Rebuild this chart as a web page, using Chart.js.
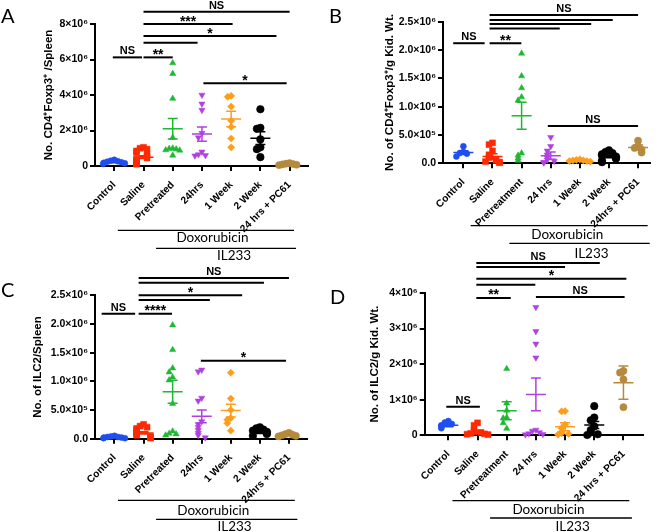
<!DOCTYPE html>
<html>
<head>
<meta charset="utf-8">
<script src="https://cdn.jsdelivr.net/npm/chart.js@4.4.0/dist/chart.umd.min.js"></script>
<style>
    body { margin: 0; background: #fff; width: 658px; height: 532px; position: relative; overflow: hidden; }
    canvas { position: absolute; }
    .panel { position: absolute; font-family: Lato, "Open Sans", sans-serif; font-size: 20px; line-height: 20px; color: #000; }
</style>
</head>
<body>
<canvas id="chartA" width="329" height="270" style="left:0;top:0"></canvas>
<canvas id="chartB" width="329" height="270" style="left:329px;top:0"></canvas>
<canvas id="chartC" width="329" height="270" style="left:0;top:262px"></canvas>
<canvas id="chartD" width="329" height="282" style="left:329px;top:250px"></canvas>
<div class="panel" style="left:1px;top:5px">A</div>
<div class="panel" style="left:329px;top:5px">B</div>
<div class="panel" style="left:1px;top:279px">C</div>
<div class="panel" style="left:330px;top:286px">D</div>
<script>
// values are in units of 10^6 cells
const catsA = ['Control', 'Saline', 'Pretreated', '24hrs', '1 Week', '2 Week', '24 hrs + PC61'];
const catsB = ['Control', 'Saline', 'Pretreatment', '24 hrs', '1 Week', '2 Week', '24hrs + PC61'];
const catsC = ['Control', 'Saline', 'Pretreated', '24hrs', '1 Week', '2 Week', '24hrs + PC61'];
const catsD = ['Control', 'Saline', 'Pretreatment', '24 hrs', '1 Week', '2 Week', '24 hrs + PC61'];

const valuesA = [
    [0.35, 0.3, 0.27, 0.24, 0.21, 0.18, 0.15, 0.12],
    [1.05, 1.0, 0.95, 0.85, 0.75, 0.65, 0.55, 0.45, 0.38, 0.3, 0.22, 0.15, 0.1],
    [5.8, 5.2, 3.8, 1.6, 1.0, 0.98, 0.95, 0.9, 0.88, 0.6],
    [4.0, 3.5, 3.15, 1.85, 1.6, 0.8, 0.65, 0.6, 0.58],
    [3.95, 3.9, 3.35, 2.55, 2.2, 1.55, 1.05],
    [3.2, 2.15, 2.1, 1.5, 1.05, 0.95, 0.5],
    [0.16, 0.13, 0.11, 0.09, 0.07, 0.05]
];
const meansA = [0.22, 0.5, 2.1, 1.8, 2.65, 1.57, 0.1];
const semsA = [0.03, 0.08, 0.58, 0.4, 0.44, 0.36, 0.02];

const valuesB = [
    [0.3, 0.2, 0.18, 0.17, 0.12],
    [0.36, 0.33, 0.22, 0.15, 0.1, 0.07, 0.05, 0.03, 0.02, 0.01],
    [1.94, 1.54, 1.33, 1.17, 1.11, 0.18, 0.14, 0.09, 0.05],
    [0.46, 0.3, 0.22, 0.15, 0.1, 0.06, 0.04, 0.02, 0.01],
    [0.07, 0.06, 0.05, 0.05, 0.04, 0.04, 0.03],
    [0.23, 0.2, 0.18, 0.16, 0.14, 0.12, 0.1, 0.08, 0.05, 0.02],
    [0.4, 0.3, 0.27, 0.24, 0.19]
];
const meansB = [0.19, 0.12, 0.84, 0.135, 0.05, 0.12, 0.28];
const semsB = [0.03, 0.05, 0.24, 0.065, 0.01, 0.02, 0.045];

const valuesC = [
    [0.05, 0.04, 0.03, 0.03, 0.02, 0.02, 0.01, 0.01],
    [0.25, 0.22, 0.2, 0.18, 0.15, 0.12, 0.1, 0.08, 0.06, 0.04, 0.02, 0.01],
    [1.98, 1.55, 1.23, 1.16, 1.07, 1.02, 0.61, 0.13, 0.09, 0.08, 0.06],
    [1.2, 1.17, 0.71, 0.66, 0.3, 0.25, 0.2, 0.15, 0.1, 0.06, 0.02],
    [1.15, 0.7, 0.5, 0.36, 0.33, 0.27, 0.14],
    [0.2, 0.18, 0.16, 0.14, 0.12, 0.1, 0.08, 0.05],
    [0.1, 0.08, 0.07, 0.06, 0.05, 0.04]
];
const meansC = [0.03, 0.1, 0.82, 0.39, 0.49, 0.11, 0.07];
const semsC = [0.005, 0.02, 0.2, 0.11, 0.11, 0.02, 0.01];

const valuesD = [
    [0.4, 0.36, 0.32, 0.28, 0.24, 0.2],
    [0.35, 0.28, 0.15, 0.1, 0.08, 0.05, 0.04, 0.03, 0.02],
    [1.87, 0.9, 0.7, 0.5, 0.48, 0.35, 0.19],
    [3.6, 2.92, 2.57, 2.18, 0.15, 0.12, 0.08, 0.05, 0.03, 0.02],
    [0.68, 0.67, 0.3, 0.2, 0.1, 0.06, 0.04, 0.02],
    [0.82, 0.5, 0.42, 0.25, 0.15, 0.08, 0.03, 0.01],
    [1.81, 1.76, 1.57, 0.79]
];
const meansD = [0.28, 0.1, 0.69, 1.15, 0.24, 0.29, 1.48];
const semsD = [0.04, 0.04, 0.25, 0.46, 0.11, 0.1, 0.47];

// y ticks (values in 10^6) and their printed labels
const yTickValsA = [0, 2, 4, 6, 8];
const yTickLabelsA = ['0', '2×10⁶', '4×10⁶', '6×10⁶', '8×10⁶'];
const yTickValsB = [0, 0.5, 1, 1.5, 2, 2.5];
const yTickLabelsB = ['0.0', '5.0×10⁵', '1.0×10⁶', '1.5×10⁶', '2.0×10⁶', '2.5×10⁶'];
const yTickValsC = [0, 0.5, 1, 1.5, 2, 2.5];
const yTickLabelsC = ['0.0', '5.0×10⁵', '1.0×10⁶', '1.5×10⁶', '2.0×10⁶', '2.5×10⁶'];
const yTickValsD = [0, 1, 2, 3, 4];
const yTickLabelsD = ['0', '1×10⁶', '2×10⁶', '3×10⁶', '4×10⁶'];

// significance bars: [from group, to group, height (10^6), label]
const barsA = [[1, 6, 8.69, 'NS'], [1, 4.05, 8.0, '***'], [1, 5.55, 7.32, '*'], [1, 2.85, 6.95, ''],
    [-0.05, 0.95, 6.12, 'NS'], [1, 2, 6.12, '**'], [3.05, 5.9, 4.66, '*']];
const barsB = [[0.9, 6, 2.62, 'NS'], [0.9, 5.13, 2.53, ''], [0.9, 4.39, 2.46, ''], [0.9, 3.31, 2.38, ''],
    [-0.35, 0.73, 2.12, 'NS'], [0.9, 1.99, 2.12, '**'], [2.9, 6, 0.66, 'NS']];
const barsC = [[0.83, 6, 2.8, 'NS'], [0.83, 5.14, 2.72, ''], [0.83, 4.39, 2.5, '*'], [0.83, 3.28, 2.42, ''],
    [-0.44, 0.71, 2.18, 'NS'], [0.83, 1.98, 2.18, '****'], [2.97, 5.9, 1.36, '*']];
const barsD = [[0.96, 5.19, 4.84, 'NS'], [0.96, 4.0, 4.73, ''], [0.96, 6.1, 4.4, '*'], [0.96, 2.98, 4.23, ''],
    [0.96, 2.14, 3.86, '**'], [3.0, 6.04, 3.89, 'NS'], [-0.07, 1.08, 0.8, 'NS']];

const colors = ['#1f4ef0', '#ff2a00', '#1fb833', '#b040e0', '#ff9d1a', '#000000', '#b68a3e'];
const shapes = ['circle', 'rect', 'triangle', 'triangle', 'rectRot', 'circle', 'circle'];
const turns = [0, 0, 0, 180, 0, 0, 0];
const radii = [3, 4.2, 3.6, 3.6, 3.6, 3.8, 3.6];

const boldFont = 'Arial, "Liberation Sans", sans-serif';
const plainFont = 'Lato, "Open Sans", sans-serif';

// spread points with close values sideways, like a dot plot
function spread(vals, yMax) {
    return vals.map((v, j) => {
        let n = 0;
        for (let k = 0; k < j; k++) {
            if (Math.abs(vals[k] - v) < yMax * 0.035) n++;
        }
        const off = Math.ceil(n / 2) * 0.12 * (n % 2 ? -1 : 1);
        return Math.max(-0.38, Math.min(0.38, off));
    });
}

const marksPlugin = {
    id: 'marks',
    afterDatasetsDraw(chart, args, opts) {
        const { ctx, chartArea } = chart;
        const xs = chart.scales.x, ys = chart.scales.y;
        ctx.save();
        // mean and SEM
        opts.means.forEach((m, i) => {
            const cx = xs.getPixelForValue(i);
            const ym = ys.getPixelForValue(m);
            const yt = ys.getPixelForValue(m + opts.sems[i]);
            const yb = ys.getPixelForValue(m - opts.sems[i]);
            ctx.strokeStyle = colors[i];
            ctx.lineWidth = 1.5;
            ctx.beginPath();
            ctx.moveTo(cx - 10, ym); ctx.lineTo(cx + 10, ym);
            ctx.moveTo(cx, yt); ctx.lineTo(cx, yb);
            ctx.moveTo(cx - 5, yt); ctx.lineTo(cx + 5, yt);
            ctx.moveTo(cx - 5, yb); ctx.lineTo(cx + 5, yb);
            ctx.stroke();
        });
        // significance bars
        ctx.strokeStyle = '#000';
        ctx.fillStyle = '#000';
        ctx.lineWidth = 2;
        ctx.textAlign = 'center';
        ctx.textBaseline = 'alphabetic';
        opts.bars.forEach(b => {
            const x1 = xs.getPixelForValue(b[0]), x2 = xs.getPixelForValue(b[1]);
            const y = ys.getPixelForValue(b[2]);
            ctx.beginPath();
            ctx.moveTo(x1, y); ctx.lineTo(x2, y);
            ctx.stroke();
            if (!b[3]) return;
            if (b[3] === 'NS') {
                ctx.font = 'bold 11px ' + boldFont;
                ctx.fillText(b[3], (x1 + x2) / 2, y - 3);
            } else {
                ctx.font = 'bold 14px ' + boldFont;
                ctx.fillText(b[3], (x1 + x2) / 2, y + 1.5);
            }
        });
        // treatment group lines under the axis
        ctx.lineWidth = 1.3;
        ctx.font = '13.5px ' + plainFont;
        ctx.textBaseline = 'middle';
        opts.groups.forEach(g => {
            const y = chartArea.bottom + g.dy;
            ctx.beginPath();
            ctx.moveTo(xs.getPixelForValue(g.from), y);
            ctx.lineTo(xs.getPixelForValue(g.to), y);
            ctx.stroke();
            ctx.fillText(g.text, xs.getPixelForValue(g.textAt), chartArea.bottom + g.textDy);
        });
        ctx.restore();
    }
};

function makeChart(id, p) {
    const datasets = p.values.map((vals, i) => {
        const offs = spread(vals, p.yMax);
        return {
            label: p.cats[i],
            data: vals.map((v, j) => ({ x: i + offs[j], y: v })),
            pointStyle: shapes[i],
            rotation: turns[i],
            pointRadius: radii[i],
            backgroundColor: colors[i],
            borderColor: colors[i],
            borderWidth: 0.5,
            clip: false
        };
    });

    return new Chart(document.getElementById(id), {
        type: 'scatter',
        data: { datasets: datasets },
        options: {
            responsive: false,
            animation: false,
            devicePixelRatio: 1,
            layout: { padding: { left: 0, top: p.padTop, right: p.padRight, bottom: 0 } },
            plugins: {
                legend: { display: false },
                tooltip: { enabled: false },
                marks: { means: p.means, sems: p.sems, bars: p.bars, groups: p.groups }
            },
            scales: {
                x: {
                    type: 'linear',
                    min: p.xMin,
                    max: p.xMax,
                    afterBuildTicks: s => { s.ticks = p.cats.map((c, i) => ({ value: i })); },
                    afterFit: s => { s.height = p.xH; },
                    ticks: {
                        autoSkip: false,
                        minRotation: 45,
                        maxRotation: 45,
                        padding: 8,
                        color: '#000',
                        font: { family: boldFont, size: 10.2, weight: 'bold' },
                        callback: v => p.cats[v]
                    },
                    grid: { drawOnChartArea: false, drawTicks: true, tickLength: 5, color: '#000', lineWidth: 2 },
                    border: { color: '#000', width: 2 }
                },
                y: {
                    min: 0,
                    max: p.yMax,
                    afterBuildTicks: s => { s.ticks = p.yVals.map(v => ({ value: v })); },
                    afterFit: s => { s.width = p.yW; },
                    ticks: {
                        padding: 2,
                        color: '#000',
                        font: { family: boldFont, size: 10.5, weight: 'bold' },
                        callback: (v, i) => p.yLabels[i]
                    },
                    grid: { drawOnChartArea: false, drawTicks: true, tickLength: 5, color: '#000', lineWidth: 2 },
                    border: { color: '#000', width: 2 },
                    title: {
                        display: true,
                        text: p.title,
                        color: '#000',
                        font: { family: boldFont, size: 11.5, weight: 'bold' },
                        padding: { top: p.titlePad, bottom: 0 }
                    }
                }
            }
        },
        plugins: [marksPlugin]
    });
}

makeChart('chartA', {
    cats: catsA, values: valuesA, means: meansA, sems: semsA, bars: barsA,
    yMax: 8, yVals: yTickValsA, yLabels: yTickLabelsA,
    title: 'No. CD4⁺Foxp3⁺ /Spleen',
    padTop: 24, padRight: 21, yW: 95, xH: 104, titlePad: 42.2, xMin: -0.66, xMax: 6.63,
    groups: [
        { text: 'Doxorubicin', from: 0.12, to: 6.15, textAt: 3.36, dy: 64.3, textDy: 72 },
        { text: 'IL233', from: 1.43, to: 6.22, textAt: 4.1, dy: 82.3, textDy: 90 }
    ]
});

makeChart('chartB', {
    cats: catsB, values: valuesB, means: meansB, sems: semsB, bars: barsB,
    yMax: 2.5, yVals: yTickValsB, yLabels: yTickLabelsB,
    title: 'No. of CD4⁺Foxp3⁺/g Kid. Wt.',
    padTop: 21.7, padRight: 8, yW: 114, xH: 106.7, titlePad: 53.7, xMin: -0.70, xMax: 6.41,
    groups: [
        { text: 'Doxorubicin', from: 0.25, to: 6.33, textAt: 3.57, dy: 62.4, textDy: 71.2 },
        { text: 'IL233', from: 1.58, to: 6.4, textAt: 4.4, dy: 80, textDy: 90.7 }
    ]
});

makeChart('chartC', {
    cats: catsC, values: valuesC, means: meansC, sems: semsC, bars: barsC,
    yMax: 2.5, yVals: yTickValsC, yLabels: yTickLabelsC,
    title: 'No. of ILC2/Spleen',
    padTop: 33.3, padRight: 22.3, yW: 95, xH: 93.3, titlePad: 30.7, xMin: -0.67, xMax: 6.61,
    groups: [
        { text: 'Doxorubicin', from: 0.12, to: 6.2, textAt: 3.4, dy: 61.6, textDy: 71.6 },
        { text: 'IL233', from: 1.43, to: 6.29, textAt: 4.13, dy: 80.6, textDy: 88.3 }
    ]
});

makeChart('chartD', {
    cats: catsD, values: valuesD, means: meansD, sems: semsD, bars: barsD,
    yMax: 4, yVals: yTickValsD, yLabels: yTickLabelsD,
    title: 'No. of ILC2/g Kid. Wt.',
    padTop: 43, padRight: 15, yW: 95.7, xH: 96.7, titlePad: 38.7, xMin: -0.81, xMax: 6.67,
    groups: [
        { text: 'Doxorubicin', from: 0.14, to: 6.2, textAt: 3.43, dy: 65.4, textDy: 74.7 },
        { text: 'IL233', from: 1.43, to: 6.29, textAt: 4.26, dy: 82.7, textDy: 91.7 }
    ]
});
</script>
</body>
</html>
